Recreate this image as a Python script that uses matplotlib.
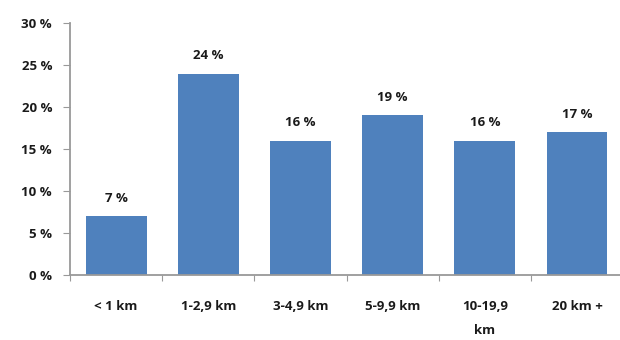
import matplotlib
matplotlib.use('Agg')
import matplotlib.pyplot as plt
import numpy as np

# data
categories = ['< 1 km', '1-2,9 km', '3-4,9 km', '5-9,9 km', '10-19,9\nkm', '20 km +']
values = [7, 24, 16, 19, 16, 17]
yticks = [0, 5, 10, 15, 20, 25, 30]

plt.rcParams['font.family'] = ['Open Sans', 'DejaVu Sans']
plt.rcParams['font.weight'] = 'bold'

fig = plt.figure(figsize=(6.2, 3.4), dpi=100)
ax = fig.add_axes([0.113, 0.191, 0.892, 0.741])

x = np.arange(len(categories))
bars = ax.bar(x, values, width=0.66, color='#4F81BD', zorder=2)

for xi, v in zip(x, values):
    ax.text(xi, v + 1.4, f'{v} %', ha='center', va='bottom', fontsize=9.5,
            fontweight='bold', color='#1a1a1a')

ax.set_xlim(-0.5, len(categories) - 0.5)
ax.set_ylim(0, 30)
ax.set_yticks(yticks)
ax.set_yticklabels([f'{t} %' for t in yticks], fontsize=9.5, fontweight='bold', color='#1a1a1a')

# category labels between boundary ticks
ax.set_xticks(np.arange(-0.5, len(categories), 1.0))
ax.set_xticklabels([])
ax.set_xticks(x, minor=True)
ax.set_xticklabels(categories, minor=True, fontsize=9.5, fontweight='bold',
                   color='#1a1a1a', va='top', linespacing=2.1)
ax.tick_params(axis='x', which='minor', length=0, pad=18)
ax.tick_params(axis='x', which='major', length=4, color='#999999')
ax.tick_params(axis='y', length=5, color='#999999', pad=8)

for s in ['top', 'right']:
    ax.spines[s].set_visible(False)
for s in ['left', 'bottom']:
    ax.spines[s].set_color('#999999')
    ax.spines[s].set_linewidth(1.3)

fig.savefig('out.png', dpi=100)
